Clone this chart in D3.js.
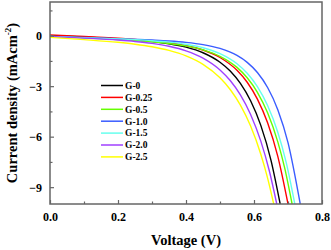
<!DOCTYPE html>
<html><head><meta charset="utf-8">
<script src="https://cdn.jsdelivr.net/npm/d3@7"></script>
<style>body{margin:0;background:#fff}svg{display:block}</style>
</head><body><svg id="c" width="331" height="250"></svg>
<script>
const seriesNames = ["G-0","G-0.25","G-0.5","G-1.0","G-1.5","G-2.0","G-2.5"];
const seriesColors = ["#000000","#ff0000","#66ff00","#3a5cff","#66ffee","#a040ff","#ffff00"];
const g0   = [[0,0],[0.1,-0.08],[0.2,-0.195],[0.25,-0.262],[0.3,-0.352],[0.35,-0.482],[0.4,-0.683],[0.45,-1.015],[0.5,-1.58],[0.53,-2.1],[0.56,-2.836],[0.59,-3.87],[0.62,-5.33],[0.65,-7.405],[0.677,-10]];
const g025 = [[0,0.05],[0.1,-0.04],[0.2,-0.156],[0.25,-0.222],[0.3,-0.305],[0.35,-0.418],[0.4,-0.586],[0.45,-0.853],[0.5,-1.296],[0.55,-2.058],[0.58,-2.768],[0.61,-3.767],[0.64,-5.177],[0.67,-7.171],[0.7,-10]];
const g05  = [[0,-0.05],[0.1,-0.13],[0.2,-0.233],[0.25,-0.291],[0.3,-0.364],[0.35,-0.463],[0.4,-0.609],[0.45,-0.84],[0.5,-1.225],[0.55,-1.885],[0.58,-2.5],[0.61,-3.363],[0.64,-4.583],[0.67,-6.309],[0.69,-7.843],[0.712,-10]];
const g10  = [[0,-0.05],[0.1,-0.11],[0.2,-0.177],[0.3,-0.26],[0.35,-0.315],[0.4,-0.398],[0.45,-0.53],[0.5,-0.759],[0.55,-1.176],[0.58,-1.586],[0.61,-2.189],[0.64,-3.079],[0.67,-4.397],[0.7,-6.355],[0.736,-10]];
const g15  = [[0,-0.05],[0.1,-0.115],[0.2,-0.191],[0.25,-0.238],[0.3,-0.298],[0.35,-0.383],[0.4,-0.511],[0.45,-0.717],[0.5,-1.066],[0.55,-1.668],[0.58,-2.232],[0.61,-3.025],[0.64,-4.149],[0.67,-5.738],[0.695,-7.562],[0.72,-10]];
const g20  = [[0,-0.05],[0.1,-0.144],[0.2,-0.26],[0.25,-0.343],[0.3,-0.459],[0.35,-0.632],[0.4,-0.9],[0.45,-1.331],[0.5,-2.035],[0.53,-2.663],[0.56,-3.517],[0.59,-4.679],[0.62,-6.265],[0.645,-8.025],[0.667,-10]];
const g25  = [[0,-0.1],[0.1,-0.235],[0.2,-0.395],[0.25,-0.506],[0.3,-0.658],[0.35,-0.875],[0.4,-1.2],[0.45,-1.704],[0.5,-2.504],[0.53,-3.199],[0.56,-4.129],[0.59,-5.372],[0.62,-7.041],[0.64,-8.46],[0.658,-10]];
const seriesData = [g0,g025,g05,g10,g15,g20,g25];
const xTickValues = [0,0.2,0.4,0.6,0.8];
const xMinorTicks = [0.1,0.3,0.5,0.7];
const yTickValues = [0,-3,-6,-9];
const yMinorTicks = [1.5,-1.5,-4.5,-7.5];

const L=50,R=322,T=2,B=204;
const svg=d3.select("#c");
const x=d3.scaleLinear().domain([0,0.8]).range([L,R]);
const y=d3.scaleLinear().domain([-10,2]).range([B,T]);
const axisColor="#666";
const font="'Liberation Serif','Times New Roman',serif";

svg.append("defs").append("clipPath").attr("id","clip").append("rect")
  .attr("x",L).attr("y",T).attr("width",R-L).attr("height",B-T);

const line=d3.line().x(d=>x(d[0])).y(d=>y(d[1])).curve(d3.curveMonotoneX);
const gl=svg.append("g").attr("clip-path","url(#clip)");
seriesData.forEach((s,i)=>{
  gl.append("path").datum(s).attr("d",line).attr("fill","none")
    .attr("stroke",seriesColors[i]).attr("stroke-width",1.4);
});

// axes
const xAxis=d3.axisBottom(x).tickValues(xTickValues).tickFormat(d3.format(".1f")).tickSizeInner(-4).tickSizeOuter(0).tickPadding(8);
const gx=svg.append("g").attr("transform",`translate(0,${B})`).call(xAxis);
const xMin=d3.axisBottom(x).tickValues(xMinorTicks).tickFormat("").tickSizeInner(-2.5).tickSizeOuter(0);
const gxm=svg.append("g").attr("transform",`translate(0,${B})`).call(xMin);
const yAxis=d3.axisLeft(y).tickValues(yTickValues).tickFormat(d3.format("d")).tickSizeInner(-4).tickSizeOuter(0).tickPadding(8);
const gy=svg.append("g").attr("transform",`translate(${L},0)`).call(yAxis);
const yMin=d3.axisLeft(y).tickValues(yMinorTicks).tickFormat("").tickSizeInner(-2.5).tickSizeOuter(0);
const gym=svg.append("g").attr("transform",`translate(${L},0)`).call(yMin);
[gx,gxm,gy,gym].forEach(g=>{
  g.select(".domain").remove();
  g.selectAll("line").attr("stroke",axisColor).attr("stroke-width",1.2);
  g.selectAll("text").attr("font-family",font).attr("font-weight","bold").attr("font-size",12).attr("fill","#000");
});
gx.selectAll("text").attr("dy","0.71em");
// frame
svg.append("rect").attr("x",L).attr("y",T).attr("width",R-L).attr("height",B-T)
  .attr("fill","none").attr("stroke",axisColor).attr("stroke-width",1.5);

// titles
svg.append("text").attr("x",(L+R)/2).attr("y",245).attr("text-anchor","middle")
  .attr("font-family",font).attr("font-weight","bold").attr("font-size",14.5).text("Voltage (V)");
const yt=svg.append("text").attr("transform",`translate(17,${(T+B)/2}) rotate(-90)`).attr("text-anchor","middle")
  .attr("font-family",font).attr("font-weight","bold").attr("font-size",14.5);
yt.append("tspan").text("Current density (mAcm");
yt.append("tspan").attr("dy",-6).attr("font-size",9).text("-2");
yt.append("tspan").attr("dy",6).text(")");

// legend
const lg=svg.append("g");
seriesNames.forEach((n,i)=>{
  const yy=85.5+i*11.9;
  lg.append("line").attr("x1",101).attr("x2",123).attr("y1",yy).attr("y2",yy)
    .attr("stroke",seriesColors[i]).attr("stroke-width",1.5);
  lg.append("text").attr("x",125).attr("y",yy).attr("dy","0.35em")
    .attr("font-family",font).attr("font-weight","bold").attr("font-size",9.5).text(n);
});
</script></body></html>
